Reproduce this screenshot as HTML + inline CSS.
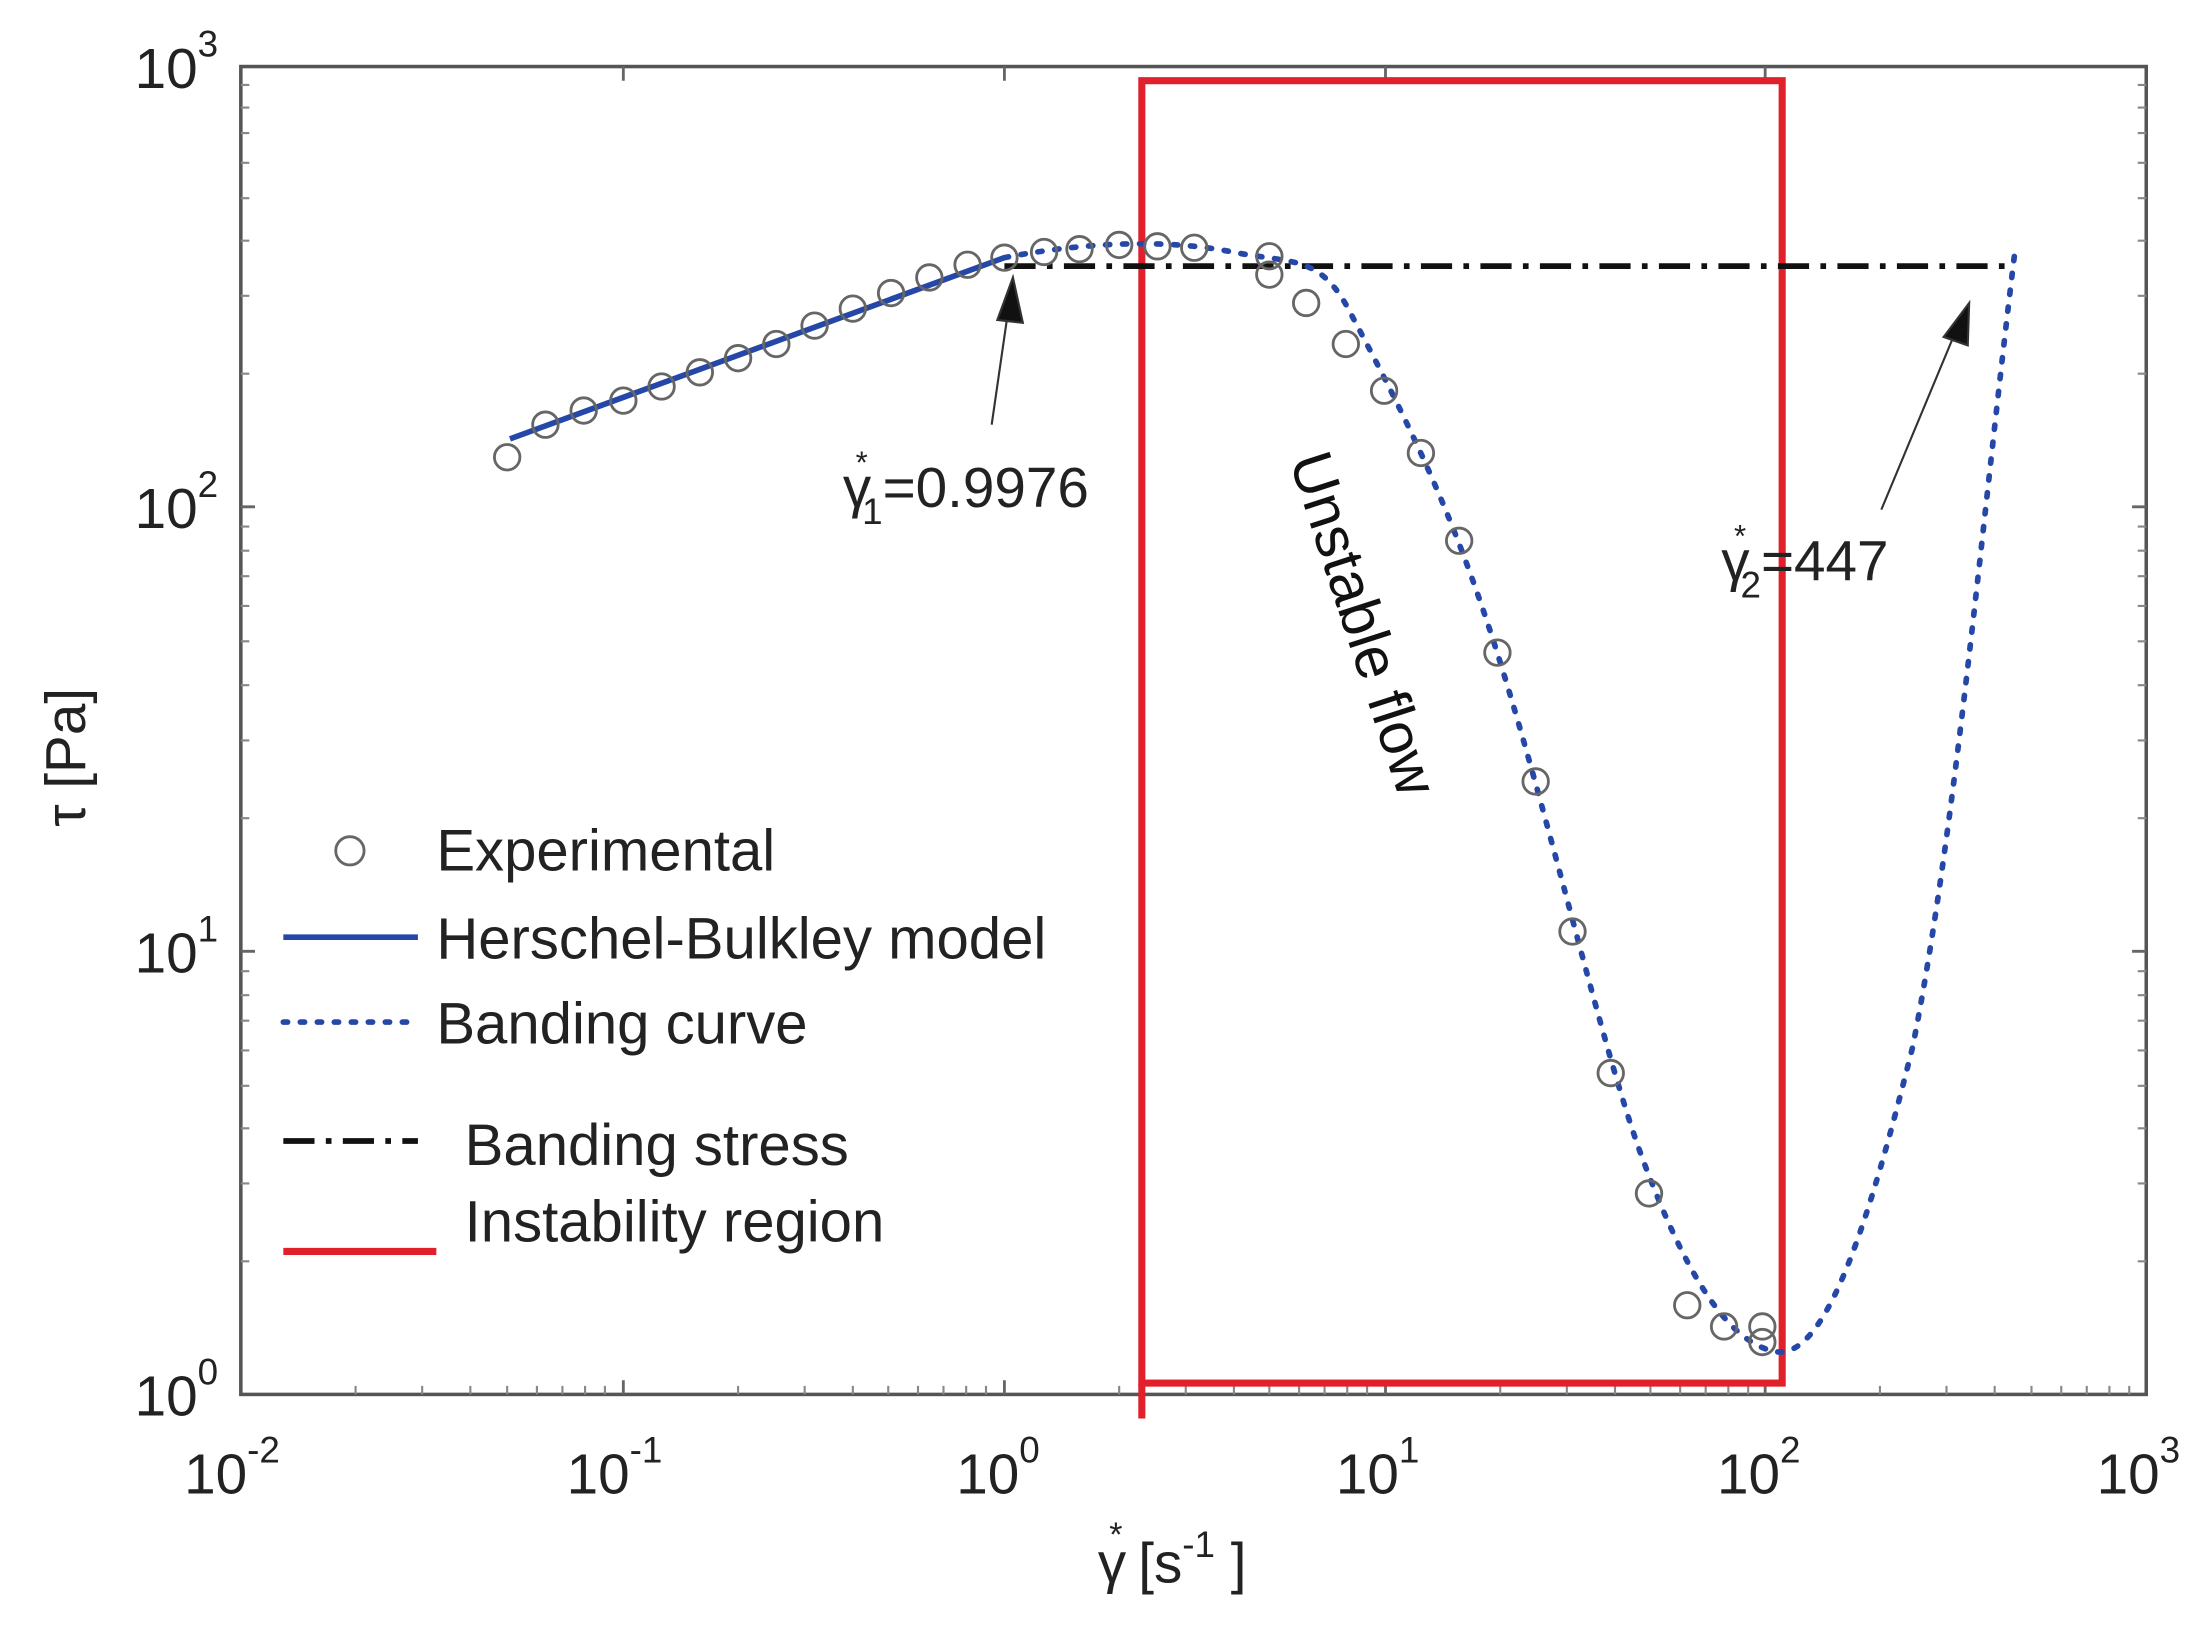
<!DOCTYPE html>
<html><head><meta charset="utf-8"><style>html,body{margin:0;padding:0;background:#fff}svg{display:block}</style></head>
<body>
<svg width="2210" height="1628" viewBox="0 0 1560 1150" preserveAspectRatio="none" xmlns="http://www.w3.org/2000/svg" font-family="Liberation Sans, sans-serif">
<rect width="1560" height="1150" fill="#fff"/>
<rect x="170" y="47" width="1345" height="938" fill="none" stroke="#555" stroke-width="2.5"/>
<g stroke="#666" stroke-width="2">
<path d="M440 985v-10M709 985v-10M978 985v-10M1246 985v-10M440 47v10M709 47v10M978 47v10M1246 47v10"/>
<path d="M170 358h10M170 672h10M1515 358h-10M1515 672h-10"/>
</g>
<g stroke="#888" stroke-width="1.5">
<path d="M251 985v-6M298 985v-6M332 985v-6M358 985v-6M379 985v-6M397 985v-6M413 985v-6M427 985v-6
M521 985v-6M568 985v-6M602 985v-6M627 985v-6M648 985v-6M666 985v-6M682 985v-6M696 985v-6
M790 985v-6M837 985v-6M871 985v-6M896 985v-6M917 985v-6M935 985v-6M951 985v-6M965 985v-6
M1059 985v-6M1106 985v-6M1140 985v-6M1165 985v-6M1186 985v-6M1204 985v-6M1220 985v-6M1234 985v-6
M1327 985v-6M1374 985v-6M1408 985v-6M1434 985v-6M1455 985v-6M1473 985v-6M1489 985v-6M1503 985v-6"/>
<path d="M170 891h6M170 836h6M170 797h6M170 767h6M170 742h6M170 721h6M170 703h6M170 686h6
M170 578h6M170 523h6M170 484h6M170 453h6M170 428h6M170 407h6M170 389h6M170 372h6
M170 264h6M170 209h6M170 170h6M170 140h6M170 115h6M170 94h6M170 76h6M170 60h6
M1515 891h-6M1515 836h-6M1515 797h-6M1515 767h-6M1515 742h-6M1515 721h-6M1515 703h-6M1515 686h-6
M1515 578h-6M1515 523h-6M1515 484h-6M1515 453h-6M1515 428h-6M1515 407h-6M1515 389h-6M1515 372h-6
M1515 264h-6M1515 209h-6M1515 170h-6M1515 140h-6M1515 115h-6M1515 94h-6M1515 76h-6M1515 60h-6"/>
</g>
<g font-size="40" fill="#222">
<text x="95" y="62">10<tspan dy="-22" font-size="26">3</tspan></text>
<text x="95" y="373">10<tspan dy="-22" font-size="26">2</tspan></text>
<text x="95" y="687">10<tspan dy="-22" font-size="26">1</tspan></text>
<text x="95" y="1000">10<tspan dy="-22" font-size="26">0</tspan></text>
<text x="130" y="1055">10<tspan dy="-22" font-size="26">-2</tspan></text>
<text x="400" y="1055">10<tspan dy="-22" font-size="26">-1</tspan></text>
<text x="675" y="1055">10<tspan dy="-22" font-size="26">0</tspan></text>
<text x="943" y="1055">10<tspan dy="-22" font-size="26">1</tspan></text>
<text x="1212" y="1055">10<tspan dy="-22" font-size="26">2</tspan></text>
<text x="1480" y="1055">10<tspan dy="-22" font-size="26">3</tspan></text>
</g>
<text x="775" y="1118" font-size="40" fill="#222">γ<tspan dy="-26" dx="-12" font-size="24">*</tspan><tspan dy="26"> [s</tspan><tspan dy="-18" font-size="26">-1</tspan><tspan dy="18"> ]</tspan></text>
<text transform="translate(60,535) rotate(-90)" text-anchor="middle" font-size="40" fill="#222">τ [Pa]</text>
<rect x="806" y="57" width="452" height="920" fill="none" stroke="#e0202a" stroke-width="5"/>
<path d="M806 977v25" stroke="#e0202a" stroke-width="5"/>
<path d="M709 188H1422" stroke="#111" stroke-width="4" stroke-dasharray="22 8 4 8"/>
<path d="M360 310L709 182" stroke="#2548a8" stroke-width="4"/>
<path d="M709 182C760 172 820 168 870 178C910 186 930 180 950 215C990 290 1020 350 1050 440C1090 560 1130 740 1160 820C1190 900 1220 950 1255 955C1290 958 1320 860 1350 740C1380 590 1400 360 1422 180" fill="none" stroke="#2548a8" stroke-width="4" stroke-dasharray="3 9" stroke-linecap="round"/>
<g fill="none" stroke="#666" stroke-width="2">
<circle cx="358" cy="323" r="9"/><circle cx="385" cy="300" r="9"/><circle cx="412" cy="290" r="9"/><circle cx="440" cy="283" r="9"/><circle cx="467" cy="273" r="9"/><circle cx="494" cy="263" r="9"/><circle cx="521" cy="253" r="9"/><circle cx="548" cy="243" r="9"/><circle cx="575" cy="230" r="9"/><circle cx="602" cy="218" r="9"/><circle cx="629" cy="207" r="9"/><circle cx="656" cy="196" r="9"/><circle cx="683" cy="187" r="9"/><circle cx="709" cy="182" r="9"/><circle cx="737" cy="178" r="9"/><circle cx="762" cy="176" r="9"/><circle cx="790" cy="173" r="9"/><circle cx="817" cy="174" r="9"/><circle cx="843" cy="175" r="9"/><circle cx="896" cy="181" r="9"/><circle cx="896" cy="194" r="9"/><circle cx="922" cy="214" r="9"/><circle cx="950" cy="243" r="9"/><circle cx="977" cy="276" r="9"/><circle cx="1003" cy="320" r="9"/><circle cx="1030" cy="382" r="9"/><circle cx="1057" cy="461" r="9"/><circle cx="1084" cy="552" r="9"/><circle cx="1110" cy="658" r="9"/><circle cx="1137" cy="758" r="9"/><circle cx="1164" cy="843" r="9"/><circle cx="1191" cy="922" r="9"/><circle cx="1217" cy="937" r="9"/><circle cx="1244" cy="937" r="9"/><circle cx="1244" cy="948" r="9"/>
</g>
<g stroke="#333" stroke-width="1.5" fill="#111">
<path d="M700 300L713 210"/><path d="M715 196L704 226L722 228Z"/>
<path d="M1328 360L1383 228"/><path d="M1390 214L1372 238L1389 244Z"/>
</g>
<text x="595" y="358" font-size="40" fill="#222">γ<tspan dy="-24" dx="-11" font-size="22">*</tspan><tspan dy="36" dx="-4" font-size="26">1</tspan><tspan dy="-12">=0.9976</tspan></text>
<text x="1215" y="410" font-size="40" fill="#222">γ<tspan dy="-24" dx="-11" font-size="22">*</tspan><tspan dy="36" dx="-4" font-size="26">2</tspan><tspan dy="-12">=447</tspan></text>
<text transform="translate(910,325) rotate(72)" font-size="42" fill="#111">Unstable flow</text>
<g font-size="41" fill="#222">
<circle cx="247" cy="601" r="10" fill="none" stroke="#666" stroke-width="2"/>
<text x="308" y="615">Experimental</text>
<path d="M200 662H295" stroke="#2548a8" stroke-width="4"/>
<text x="308" y="677">Herschel-Bulkley model</text>
<path d="M200 722H295" stroke="#2548a8" stroke-width="4" stroke-dasharray="3 9" stroke-linecap="round"/>
<text x="308" y="737">Banding curve</text>
<path d="M200 806H295" stroke="#111" stroke-width="4" stroke-dasharray="22 8 4 8"/>
<text x="328" y="823">Banding stress</text>
<path d="M200 884H308" stroke="#e0202a" stroke-width="5"/>
<text x="328" y="877">Instability region</text>
</g>
</svg>
</body></html>
